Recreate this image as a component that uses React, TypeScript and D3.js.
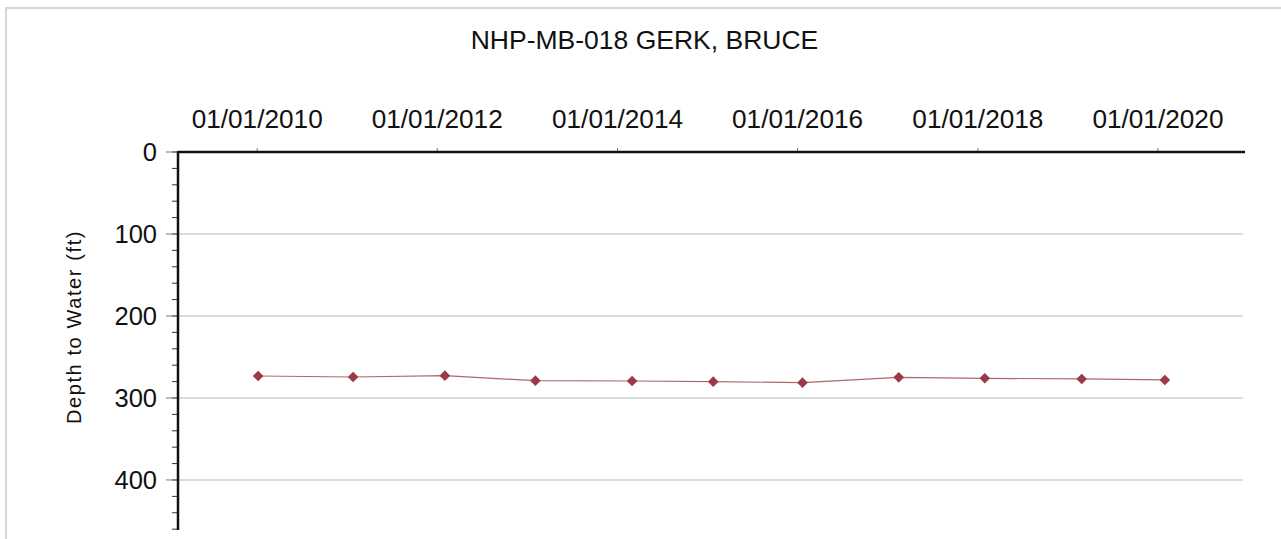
import React from "react";
import * as d3 from "d3";

const title = "NHP-MB-018 GERK, BRUCE";
const yLabel = "Depth to Water (ft)";
const dates = [
  "2010-01-05", "2011-01-25", "2012-02-01", "2013-02-02", "2014-03-01", "2015-01-24",
  "2016-01-21", "2017-02-14", "2018-01-29", "2019-02-26", "2020-01-29",
];
const depths = [273.2, 274.4, 272.8, 278.9, 279.3, 280.1, 281.3, 274.8, 276.0, 276.8, 278.0];
const xTickDates = ["2010-01-01", "2012-01-01", "2014-01-01", "2016-01-01", "2018-01-01", "2020-01-01"];
const yTicks = [0, 100, 200, 300, 400];
const yMinorTicks = d3.range(0, 461, 20);
const xDomain = ["2009-02-14", "2020-12-19"];
const yDomain = [0, 461];

const W = 1281;
const H = 539;
const FONT = "Arial, 'Liberation Sans', sans-serif";

export default function App() {
  const parse = d3.utcParse("%Y-%m-%d");
  const x = d3.scaleUtc().domain(xDomain.map((d) => parse(d) as Date)).range([178, 1245]);
  const y = d3.scaleLinear().domain(yDomain).range([152, 530]);
  const fmt = d3.utcFormat("%m/%d/%Y");
  const pts = dates.map((d, i) => ({ x: x(parse(d) as Date), y: y(depths[i]) }));
  const line = d3.line<{ x: number; y: number }>().x((d) => d.x).y((d) => d.y);
  const diamond = d3.symbol().type(d3.symbolDiamond2).size(72)() as string;
  const [x0, x1] = x.range();
  const [y0, y1] = y.range();

  return (
    <div style={{ position: "absolute", left: 0, top: 0 }}>
      <svg width={W} height={H} style={{ display: "block", background: "#fff" }}>
        <rect x={6} y={8} width={1290} height={560} fill="none" stroke="#d6d6d6" strokeWidth={2} />
        <text x={644.5} y={49} textAnchor="middle" fontFamily={FONT} fontSize={26.5} fill="#111">
          {title}
        </text>
        {yTicks.filter((t) => t > 0).map((t) => (
          <line key={"g" + t} x1={x0} x2={1243} y1={y(t)} y2={y(t)} stroke="#dcdcdc" strokeWidth={2} />
        ))}
        {yMinorTicks.map((t) => (
          <line key={"m" + t} x1={172} x2={x0} y1={y(t)} y2={y(t)} stroke="#333" strokeWidth={1} />
        ))}
        {yTicks.map((t) => (
          <g key={"y" + t}>
            <line x1={166} x2={x0} y1={y(t)} y2={y(t)} stroke="#777" strokeWidth={1} />
            <text x={157} y={y(t)} dy="0.36em" textAnchor="end" fontFamily={FONT} fontSize={25.5} fill="#111">
              {t}
            </text>
          </g>
        ))}
        {xTickDates.map((d) => {
          const xx = x(parse(d) as Date);
          return (
            <g key={d}>
              <line x1={xx} x2={xx} y1={y0 - 4} y2={y0} stroke="#777" strokeWidth={1} />
              <text x={xx} y={128} textAnchor="middle" fontFamily={FONT} fontSize={26.2} fill="#111">
                {fmt(parse(d) as Date)}
              </text>
            </g>
          );
        })}
        <line x1={x0} x2={x1} y1={y0} y2={y0} stroke="#111" strokeWidth={2.5} />
        <line x1={x0} x2={x0} y1={y0 - 1} y2={y1} stroke="#111" strokeWidth={2.5} />
        <text
          transform={`translate(81,${(226 + 428) / 2}) rotate(-90)`}
          textAnchor="middle"
          fontFamily={FONT}
          fontSize={20}
          letterSpacing={1.6}
          fill="#111"
        >
          {yLabel}
        </text>
        <path d={line(pts) as string} fill="none" stroke="#b06868" strokeWidth={1.2} />
        {pts.map((p, i) => (
          <path key={i} d={diamond} transform={`translate(${p.x},${p.y})`} fill="#9a3a48" />
        ))}
      </svg>
    </div>
  );
}
